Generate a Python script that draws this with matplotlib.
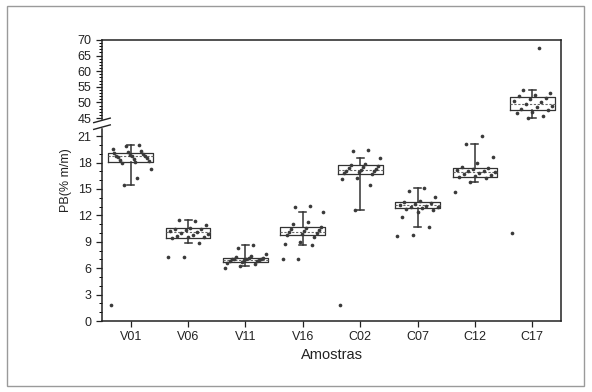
import numpy as np
import matplotlib
matplotlib.use("Agg")
import matplotlib.pyplot as plt
from matplotlib.patches import Rectangle
from matplotlib.ticker import FixedLocator, FixedFormatter

"""Sample names and box statistics read off the scan"""
samples = ["V01", "V06", "V11", "V16", "C02", "C07", "C12", "C17"]
q1 = [18.1, 9.45, 6.7, 9.8, 16.7, 12.8, 16.4, 47.6]
median = [18.7, 10.1, 6.95, 10.1, 17.15, 13.2, 16.9, 49.5]
q3 = [19.1, 10.55, 7.2, 10.7, 17.7, 13.5, 17.4, 51.8]
whisker_low = [15.4, 8.9, 6.2, 8.6, 12.6, 10.7, 15.8, 44.5]
whisker_high = [20.0, 11.5, 8.6, 12.4, 18.5, 15.1, 20.1, 54.0]

"""Individual measurements per sample"""
v01 = [1.8, 15.4, 16.2, 17.3, 18.0, 18.1, 18.2, 18.3, 18.4, 18.5, 18.6, 18.7,
       18.7, 18.8, 18.9, 19.0, 19.1, 19.2, 19.3, 19.5, 19.9, 20.0]
v06 = [7.3, 7.3, 8.9, 9.4, 9.5, 9.6, 9.7, 9.8, 9.9, 10.0, 10.1, 10.2, 10.3,
       10.4, 10.5, 10.6, 10.9, 11.5, 11.4]
v11 = [6.0, 6.3, 6.5, 6.6, 6.7, 6.8, 6.8, 6.9, 6.9, 7.0, 7.0, 7.1, 7.1, 7.2,
       7.2, 7.3, 7.4, 7.6, 8.3, 8.6]
v16 = [7.0, 7.1, 8.6, 8.8, 9.0, 9.6, 9.8, 9.9, 10.0, 10.1, 10.2, 10.3, 10.5,
       10.6, 10.7, 11.0, 11.2, 12.4, 12.9, 13.1]
c02 = [1.8, 12.6, 15.5, 16.1, 16.2, 16.7, 16.8, 16.9, 17.0, 17.1, 17.2, 17.3,
       17.4, 17.5, 17.6, 17.7, 17.8, 18.5, 19.3, 19.4]
c07 = [9.7, 9.8, 10.7, 11.8, 12.4, 12.6, 12.7, 12.8, 12.9, 13.0, 13.1, 13.2,
       13.3, 13.4, 13.5, 13.6, 14.1, 14.8, 15.1]
c12 = [14.7, 15.8, 16.2, 16.4, 16.5, 16.6, 16.7, 16.8, 16.9, 17.0, 17.1, 17.2,
       17.3, 17.4, 17.5, 17.9, 18.6, 20.1, 21.8]
c17 = [10.0, 44.5, 45.6, 46.5, 47.0, 47.6, 48.0, 48.5, 49.0, 49.5, 50.0, 50.5,
       51.0, 51.5, 52.0, 52.4, 53.0, 54.0, 67.3]
points = [v01, v06, v11, v16, c02, c07, c12, c17]

lower_ticks = [0, 3, 6, 9, 12, 15, 18, 21]
upper_ticks = [45, 50, 55, 60, 65, 70]

"""Broken axis: 0-21 linear, short gap, then 45-70 compressed"""
BREAK_LO, BREAK_HI = 21.0, 45.0
GAP = 2.05
UPPER_FACTOR = 0.355


def fwd(y):
    y = np.asarray(y, dtype=float)
    mid = BREAK_LO + (y - BREAK_LO) * GAP / (BREAK_HI - BREAK_LO)
    top = BREAK_LO + GAP + (y - BREAK_HI) * UPPER_FACTOR
    return np.where(y <= BREAK_LO, y, np.where(y <= BREAK_HI, mid, top))


def inv(v):
    v = np.asarray(v, dtype=float)
    mid = BREAK_LO + (v - BREAK_LO) * (BREAK_HI - BREAK_LO) / GAP
    top = BREAK_HI + (v - BREAK_LO - GAP) / UPPER_FACTOR
    return np.where(v <= BREAK_LO, v, np.where(v <= BREAK_LO + GAP, mid, top))


plt.rcParams['font.family'] = ['Liberation Sans', 'DejaVu Sans']

fig = plt.figure(figsize=(5.92, 3.92), dpi=100)
ax = fig.add_axes([0.1723, 0.181, 0.7753, 0.717])
ax.set_yscale('function', functions=(fwd, inv))

positions = np.arange(1, len(samples) + 1)
stats = []
for i in range(len(samples)):
    stats.append({"q1": q1[i], "med": median[i], "q3": q3[i],
                  "whislo": whisker_low[i], "whishi": whisker_high[i],
                  "fliers": [], "label": samples[i]})

line_col = "#333333"
ax.bxp(stats, positions=positions, widths=0.78, showfliers=False,
       boxprops=dict(color=line_col, linewidth=0.9),
       medianprops=dict(color="#666666", linewidth=0.8, linestyle=(0, (2, 1.5))),
       whiskerprops=dict(color=line_col, linewidth=1.1),
       capprops=dict(color=line_col, linewidth=1.1), capwidths=0.12)

"""Spread the dots across the box width"""
for pos, vals in zip(positions, points):
    n = len(vals)
    order = (np.arange(n) * 7) % n
    offsets = (order / (n - 1) - 0.5) * 0.7
    ax.scatter(pos + offsets, vals, s=7, color="#3a3a3a", zorder=3, linewidths=0)

ax.set_xlim(0.5, 8.5)
ax.set_ylim(0, 70)
ax.set_xticks(positions)
ax.set_xticklabels(samples)
ax.yaxis.set_major_locator(FixedLocator(lower_ticks + upper_ticks))
ax.yaxis.set_major_formatter(FixedFormatter([str(t) for t in lower_ticks + upper_ticks]))
minor = [v for v in range(1, 21) if v % 3] + [v for v in range(46, 70) if v % 5]
ax.yaxis.set_minor_locator(FixedLocator(minor))

ax.tick_params(axis='both', which='major', labelsize=9, length=4, width=0.9,
               color="#222222", labelcolor="#222222")
ax.tick_params(axis='y', which='minor', length=2, width=0.7)
for sp in ax.spines.values():
    sp.set_linewidth(1.1)
    sp.set_color("#222222")

ax.set_xlabel("Amostras", fontsize=10.5, labelpad=3, color="#222222")
ax.set_ylabel("PB(% m/m)", fontsize=9, labelpad=4, color="#222222")

"""Break marks on the left spine"""
trans = ax.get_yaxis_transform()
ax.add_patch(Rectangle((-0.01, 33), 0.02, 9, transform=trans, color="white",
                       clip_on=False, zorder=5))
for yb in (33, 42):
    ax.plot([-0.018, 0.018], [yb - 3, yb + 3], transform=trans, color="#222222",
            linewidth=1.0, clip_on=False, zorder=6)

"""Light frame around the whole figure, as in the scan"""
fig.patches.append(Rectangle((0.012, 0.015), 0.975, 0.97, transform=fig.transFigure,
                             fill=False, edgecolor="#9a9a9a", linewidth=1.0))

fig.savefig("out.png", dpi=100)
